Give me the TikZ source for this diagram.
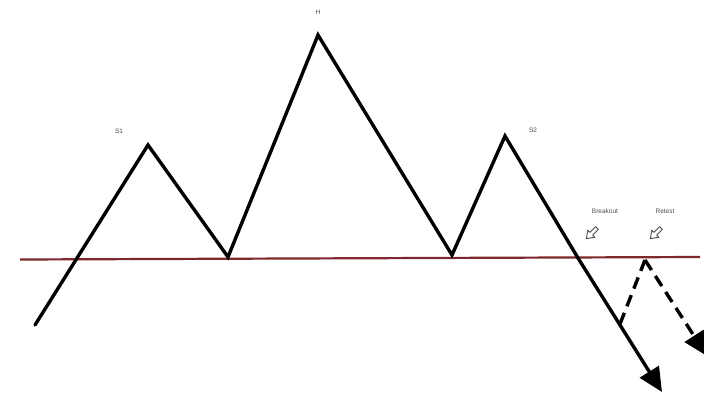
\documentclass[tikz,border=0pt]{standalone}
\usepackage{fontspec}
\setmainfont{Liberation Sans}
\usetikzlibrary{arrows.meta}
\definecolor{neck}{RGB}{125,40,45}
\tikzset{
  price/.style={line width=3.4pt, line join=miter, line cap=round},
  neckline/.style={line width=2.2pt, neck},
  lbl/.style={font=\fontsize{6.5}{7}\selectfont, text=black!70, inner sep=0pt},
  bigtip/.style={-{Triangle[length=24pt,width=22pt]}},
  hollow/.style={draw=black!70, line width=0.9pt, fill=white, line join=round}
}
\begin{document}
\begin{tikzpicture}[x=1pt,y=-1pt]
\useasboundingbox (0,0) rectangle (704,399);
\clip (0,0) rectangle (704,399);
% key points
\coordinate (start) at (35,325);
\coordinate (s1) at (148,145);
\coordinate (t1) at (228,257);
\coordinate (h) at (318,35);
\coordinate (t2) at (452,255);
\coordinate (s2) at (505,136);
\coordinate (bo) at (578,258);
\coordinate (pb) at (620,324);
\coordinate (end) at (662,392);
\coordinate (rt) at (645,260);
\coordinate (rend) at (707,356);
\coordinate (nl) at (20,259.5);
\coordinate (nr) at (700,257);
% neckline
\draw[neckline] (nl) -- (nr);
% price path
\draw[price] (start) -- (s1) -- (t1) -- (h) -- (t2) -- (s2) -- (bo);
\draw[price, bigtip, line cap=butt] (bo) -- (end);
% retest (dashed)
\draw[price, dashed, dash pattern=on 12pt off 7pt, line cap=butt] (pb) -- (rt);
\draw[price, dashed, dash pattern=on 12pt off 7pt, line cap=butt, bigtip] (rt) -- (rend);
% labels
\node[lbl] (ls1) at (119,131) {S1};
\node[lbl] (lh) at (318,12) {H};
\node[lbl] (ls2) at (533,130) {S2};
\node[lbl] (lbo) at (605,211) {Breakout};
\node[lbl] (lrt) at (665,211) {Retest};
% hollow pointer arrows
\foreach \cx/\cy in {592/233, 656/233}{
  \begin{scope}[shift={(\cx,\cy)}, rotate=-135]
    \draw[hollow] (-7,-2) -- (1,-2) -- (1,-5) -- (8,0) -- (1,5) -- (1,2) -- (-7,2) -- cycle;
  \end{scope}
}
\end{tikzpicture}
\end{document}
